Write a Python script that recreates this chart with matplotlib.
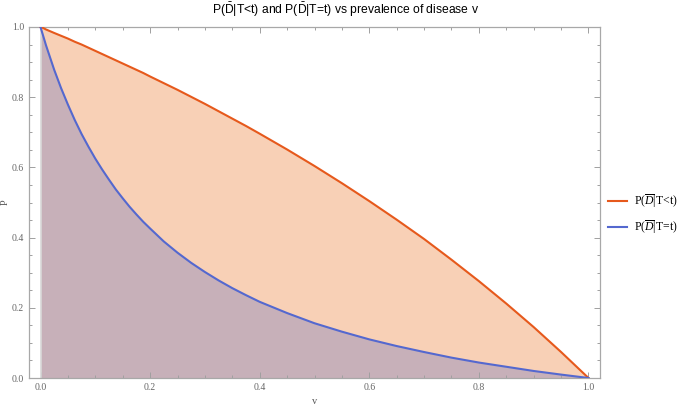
import matplotlib.pyplot as plt
from matplotlib.ticker import MultipleLocator

plt.rcParams['mathtext.fontset'] = 'custom'
plt.rcParams['mathtext.rm'] = 'Liberation Sans'
plt.rcParams['mathtext.it'] = 'Liberation Serif:italic'

# values
v = [0.0, 0.005, 0.01, 0.025, 0.0375, 0.05, 0.0625, 0.075, 0.0875, 0.1, 0.1125, 0.125,
     0.1375, 0.15, 0.1625, 0.175, 0.1875, 0.2, 0.225, 0.25, 0.275, 0.3, 0.325, 0.35,
     0.375, 0.4, 0.45, 0.5, 0.55, 0.6, 0.65, 0.7, 0.75, 0.8, 0.85, 0.9, 0.95, 1.0]
p_less = [1.0, 0.997, 0.993, 0.983, 0.975, 0.967, 0.958, 0.950, 0.941, 0.932, 0.923, 0.914,
          0.905, 0.896, 0.887, 0.878, 0.869, 0.859, 0.840, 0.821, 0.801, 0.781, 0.760, 0.739,
          0.718, 0.696, 0.651, 0.604, 0.555, 0.504, 0.451, 0.396, 0.337, 0.276, 0.212, 0.145,
          0.074, 0.0]
p_equal = [1.0, 0.974, 0.948, 0.878, 0.826, 0.779, 0.735, 0.695, 0.659, 0.625, 0.594, 0.565,
           0.537, 0.512, 0.488, 0.466, 0.445, 0.426, 0.389, 0.357, 0.328, 0.302, 0.278, 0.256,
           0.236, 0.217, 0.185, 0.156, 0.132, 0.110, 0.091, 0.074, 0.058, 0.044, 0.032, 0.020,
           0.0097, 0.0]

orange = '#e6591c'
blue = '#5468cf'

fig = plt.figure(figsize=(6.85, 4.09), dpi=100)
ax = fig.add_axes([29 / 685, 31 / 409, 571 / 685, 351 / 409])

ax.fill_between(v, 0, p_less, color='#f8d0b6', lw=0)
ax.fill_between(v, 0, p_equal, color='#c7b0b9', lw=0)
ax.axvline(0, color='#d8d8d8', lw=1.2, zorder=2)
ax.plot(v, p_less, color=orange, lw=1.5, label=r'P($\overline{D}$|T<t)', zorder=3)
ax.plot(v, p_equal, color=blue, lw=1.5, label=r'P($\overline{D}$|T=t)', zorder=3)

ax.set_xlim(-0.021, 1.021)
ax.set_ylim(0, 1)
ax.xaxis.set_major_locator(MultipleLocator(0.2))
ax.xaxis.set_minor_locator(MultipleLocator(0.05))
ax.yaxis.set_major_locator(MultipleLocator(0.2))
ax.yaxis.set_minor_locator(MultipleLocator(0.05))
ax.tick_params(which='both', direction='in', top=True, right=True, color='#a0a0a0',
               labelsize=7, labelcolor='#666666', width=0.7)
ax.tick_params(which='major', length=4)
ax.tick_params(which='minor', length=2.5)
ax.set_xticklabels(['%.1f' % t for t in ax.get_xticks()])
ax.set_yticklabels(['%.1f' % t for t in ax.get_yticks()])
for lab in ax.get_xticklabels() + ax.get_yticklabels():
    lab.set_family('Liberation Serif')
for s in ax.spines.values():
    s.set_color('#a8a8a8')
    s.set_linewidth(0.9)

ax.set_xlabel('v', family='Liberation Serif', fontsize=7.5, color='#555555', labelpad=4)
ax.set_ylabel('P', family='Liberation Serif', fontsize=7.5, color='#555555')
ax.yaxis.set_label_coords(-0.033, 0.5)

fig.text(0.505, 0.975, r'P($\bar{\mathrm{D}}$|T<t) and P($\bar{\mathrm{D}}$|T=t) vs prevalence of disease v',
         ha='center', va='center', fontsize=8.7, family='Liberation Sans')

leg = ax.legend(loc='center left', bbox_to_anchor=(1.0, 0.466), frameon=False,
                prop={'family': 'Liberation Serif', 'size': 8.5}, handlelength=1.6,
                handletextpad=0.6, labelspacing=0.7, borderaxespad=0.3)

fig.savefig('out.png', dpi=100)
